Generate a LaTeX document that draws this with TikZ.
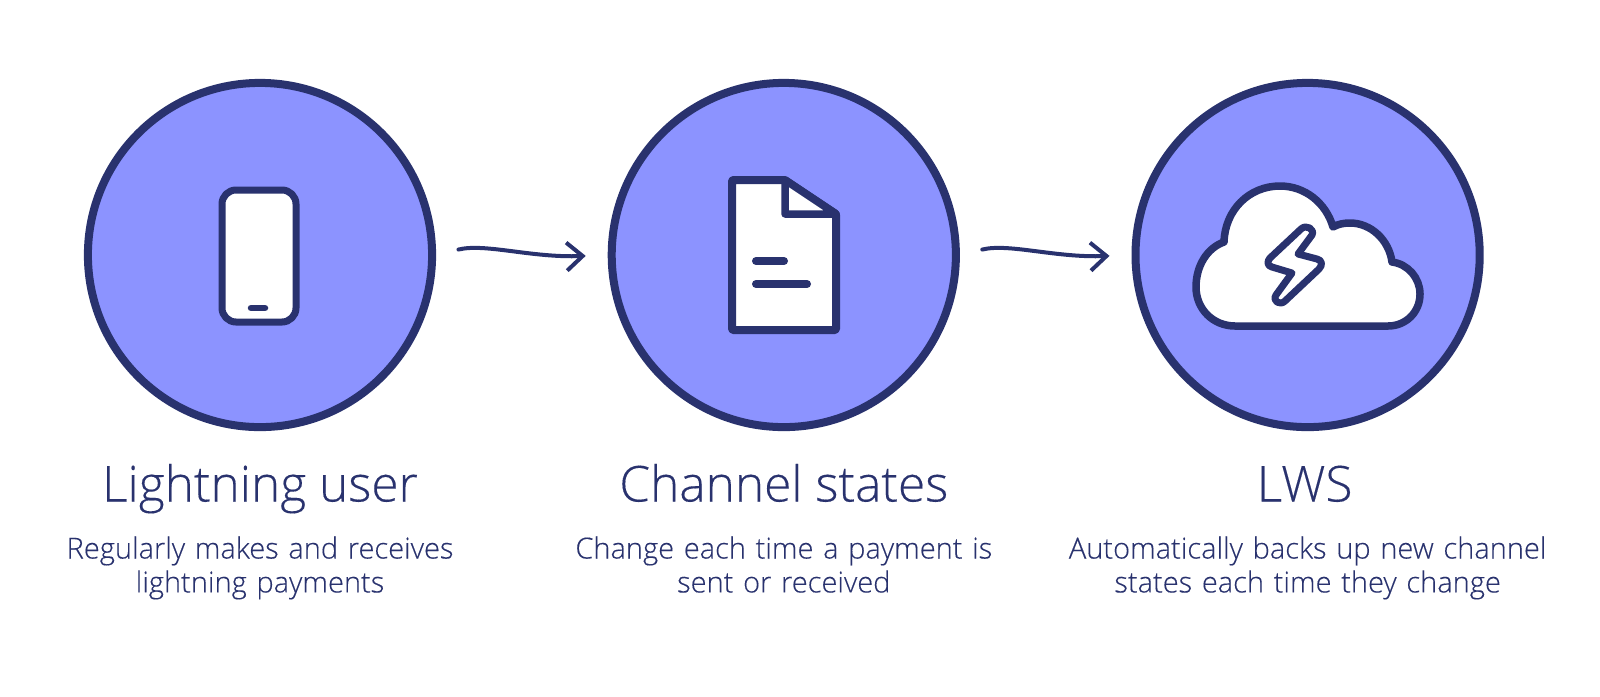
\documentclass[tikz,border=0pt]{standalone}
\usepackage{fontspec}
\setmainfont{Open Sans}[UprightFont=* Light, UprightFeatures={FakeBold=0.25}]
\usetikzlibrary{arrows.meta,positioning}
\definecolor{navy}{HTML}{29326E}
\definecolor{lilac}{HTML}{8C93FF}

\begin{document}
\begin{tikzpicture}[
      x=0.01cm, y=-0.01cm,
      node distance=1.715cm,
      disc/.style={draw=navy, fill=lilac, circle, line width=0.08cm, minimum size=3.44cm},
      head/.style={text=navy, font=\fontsize{14.1pt}{16pt}\selectfont, text height=10pt, text depth=3pt, inner sep=0pt},
      blurb/.style={text=navy, font=\fontsize{8.25pt}{9.65pt}\selectfont, align=center, text width=5cm, inner sep=0pt},
      arr/.style={-{Straight Barb[length=1.6mm, width=2.8mm, line width=0.04cm]}, draw=navy, line width=0.04cm, line cap=round, shorten >=0.22cm, shorten <=0.23cm},
      icon/.style={draw=navy, fill=white, line width=0.07cm, line join=round},
      bar/.style={draw=navy, line width=0.065cm, line cap=round}
    ]
      \useasboundingbox (0,0) rectangle (1600,696);
      \node[disc] (user) at (260,255) {};
      \node[disc, right=of user] (states) {};
      \node[disc, right=of states] (lws) {};
      \node[head, below=0.345cm of user] (usertitle) {Lightning user};
      \node[head, below=0.345cm of states] (statestitle) {Channel states};
      \node[head, below=0.345cm of lws, xshift=-0.03cm] (lwstitle) {LWS};
      \node[blurb, below=0.23cm of usertitle] (usertext) {Regularly makes and receives\\lightning payments};
      \node[blurb, below=0.23cm of statestitle] (statestext) {Change each time a payment is\\sent or received};
      \node[blurb, below=0.23cm of lwstitle, xshift=0.03cm] (lwstext) {Automatically backs up new channel\\states each time they change};
      \draw[arr] (user.east) .. controls +(49,-12) and +(-76,3) .. (states.west);
      \draw[arr] (states.east) .. controls +(49,-12) and +(-76,3) .. (lws.west);
      \draw[icon, rounded corners=0.14cm] (222,190) rectangle (296,322);
      \draw[bar] (251,308) -- (265,308);
      \draw[icon, line width=0.08cm, rounded corners=0.01cm] (732,180) -- (785,180) -- (836,214) -- (836,330) -- (732,330) -- cycle;
      \draw[icon, line width=0.075cm] (785,180) -- (785,214) -- (836,214) -- cycle;
      \draw[bar, line width=0.08cm] (756,261) -- (784,261);
      \draw[bar, line width=0.08cm] (756,284) -- (807,284);
      \draw[icon, line width=0.075cm] (1388,326) .. controls (1406,326) and (1420,312) .. (1420,294)
        .. controls (1420,278) and (1408,264) .. (1392,262)
        .. controls (1389,240) and (1371,223) .. (1350,223)
        .. controls (1344,223) and (1338,224) .. (1333,227)
        .. controls (1326,203) and (1305,186) .. (1280,186)
        .. controls (1249,186) and (1225,210) .. (1224,242)
        .. controls (1207,248) and (1196,266) .. (1196,287)
        .. controls (1196,309) and (1213,326) .. (1235,326) -- cycle;
      \draw[icon] (1301,229) -- (1270,258) .. controls (1267,261) and (1267,266) .. (1272,267) -- (1292,273) -- (1276,295)
        .. controls (1272,301) and (1280,306) .. (1285,301) -- (1319,269)
        .. controls (1323,265) and (1322,260) .. (1317,259) -- (1298,254) -- (1312,235)
        .. controls (1315,229) and (1306,224) .. (1301,229) -- cycle;
    \end{tikzpicture}
\end{document}
